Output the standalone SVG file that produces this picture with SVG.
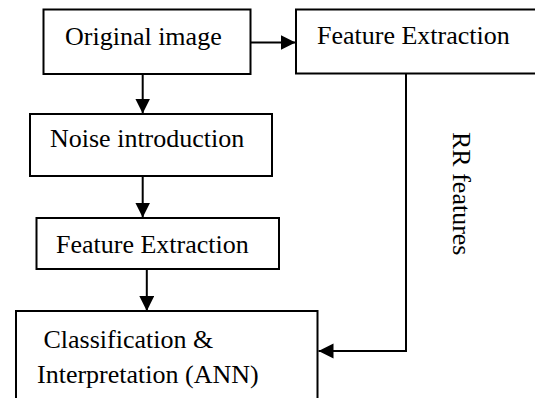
<svg xmlns="http://www.w3.org/2000/svg" width="535" height="398" viewBox="0 0 535 398">
  <style>
    .box { fill: #ffffff; stroke: #000000; stroke-width: 2; }
    .lbl { font-family: "Liberation Serif", "Times New Roman", serif; font-size: 26px; fill: #000000; }
    .wire { fill: none; stroke: #000000; stroke-width: 2; }
  </style>
  <defs>
    <marker id="head" markerUnits="userSpaceOnUse" markerWidth="16" markerHeight="16" refX="15" refY="7.5" orient="auto">
      <path d="M0,0 L15,7.5 L0,15 Z" fill="#000000"/>
    </marker>
  </defs>
  <rect width="535" height="398" fill="#ffffff"/>

  <g id="connectors">
    <line class="wire" x1="251" y1="42.5" x2="295.5" y2="42.5" marker-end="url(#head)"/>
    <line class="wire" x1="142.7" y1="74" x2="142.7" y2="113.5" marker-end="url(#head)"/>
    <line class="wire" x1="142.7" y1="176" x2="142.7" y2="217.5" marker-end="url(#head)"/>
    <line class="wire" x1="146.8" y1="269" x2="146.8" y2="311" marker-end="url(#head)"/>
    <polyline class="wire" points="406,73.5 406,351 318.5,351" marker-end="url(#head)"/>
  </g>

  <g id="node-original">
    <rect class="box" x="43.5" y="9.5" width="207" height="64.5"/>
    <text class="lbl" x="65" y="44.5">Original image</text>
  </g>

  <g id="node-feature-top">
    <rect class="box" x="296" y="9.5" width="260" height="64"/>
    <text class="lbl" x="317" y="44">Feature Extraction</text>
  </g>

  <g id="node-noise">
    <rect class="box" x="30" y="114" width="242" height="62"/>
    <text class="lbl" x="50" y="146.5">Noise introduction</text>
  </g>

  <g id="node-feature">
    <rect class="box" x="36.5" y="218" width="242.5" height="51"/>
    <text class="lbl" x="56" y="253">Feature Extraction</text>
  </g>

  <g id="node-classify">
    <rect class="box" x="16" y="311" width="301.5" height="100"/>
    <text class="lbl" x="43.5" y="348">Classification &amp;</text>
    <text class="lbl" x="37" y="382.5">Interpretation (ANN)</text>
  </g>

  <g id="label-rr">
    <text class="lbl" transform="translate(453,132) rotate(90)">RR features</text>
  </g>
</svg>
